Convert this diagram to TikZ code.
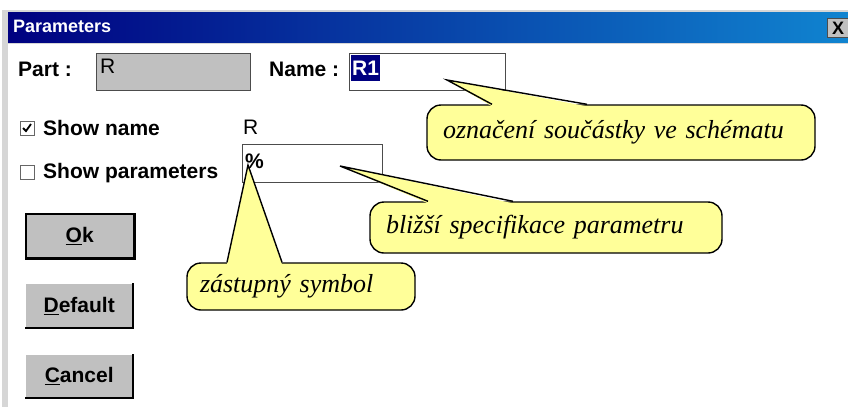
\documentclass[tikz,border=0pt]{standalone}
\usepackage{fontspec}
\setmainfont{Liberation Sans}
\newfontfamily\notefont{Liberation Serif}
\definecolor{winnavy}{RGB}{0,0,128}
\definecolor{winblue}{RGB}{16,132,208}
\definecolor{winface}{RGB}{192,192,192}
\definecolor{winedge}{RGB}{214,214,214}
\definecolor{noteyellow}{RGB}{255,255,153}
\begin{document}
\begin{tikzpicture}[x=1pt,y=-1pt,
    dlg/.style={inner sep=0pt, font=\fontsize{21}{25}\selectfont\bfseries},
    dlgthin/.style={inner sep=0pt, font=\fontsize{21}{25}\selectfont},
    fieldbox/.style={draw=black!70, line width=1.2pt, inner sep=0pt, anchor=north west},
    chkbox/.style={draw=black!60, fill=white, line width=1pt, minimum size=14pt, inner sep=0pt},
    btn/.style={fill=winface, minimum width=108pt, minimum height=44pt, inner sep=0pt, anchor=north west,
        font=\fontsize{21}{25}\selectfont\bfseries},
    notebox/.style={fill=noteyellow, draw=black, line width=1.4pt, rounded corners=14pt, inner xsep=16pt,
        align=left, font=\notefont\itshape\fontsize{26}{30}\selectfont},
    notepen/.style={draw=black, line width=1.4pt, line join=miter}]
    \useasboundingbox (0,0) rectangle (848,407);
    \fill[white] (0,0) rectangle (848,407);
    %% Window frame and title bar
    \fill[winedge] (2,10) rectangle (8,407);
    \fill[winedge] (2,10) rectangle (848,12);
    \shade[left color=winnavy, right color=winblue] (8,12) rectangle (848,42);
    \draw[winedge, line width=1pt] (8,43) -- (848,43);
    \node[inner sep=0pt, anchor=west, text=white, font=\fontsize{18}{20}\selectfont\bfseries] (title) at (13,26) {Parameters};
    \node[fill=winface, draw=black!70, line width=1pt, anchor=north west, minimum width=21pt, minimum height=19pt,
        inner sep=0pt, font=\fontsize{18}{20}\selectfont\bfseries] (closebtn) at (827,18) {X};
    %% Part and Name
    \node[dlg, anchor=west] (partlbl) at (18,69) {Part :};
    \node[fieldbox, fill=winface, minimum width=154pt, minimum height=37pt] (partbox) at (96,53) {};
    \node[dlgthin, anchor=west] (partval) at (100,66) {R};
    \node[dlg, anchor=west] (namelbl) at (269,69) {Name :};
    \node[fieldbox, fill=white, minimum width=156pt, minimum height=37pt] (namebox) at (349,53) {};
    \node[dlg, anchor=west, fill=winnavy, text=white, inner xsep=1pt, minimum height=26pt] (nameval) at (351,68) {R1};
    %% Check boxes
    \node[chkbox] (chkname) at (27,128) {};
    \draw[line width=1.8pt] ([xshift=-4pt]chkname.center) -- ([xshift=-1pt,yshift=-3pt]chkname.center)
        -- ([xshift=4pt,yshift=4pt]chkname.center);
    \node[dlg, anchor=west] (showname) at (43,128) {Show name};
    \node[chkbox] (chkparam) at (27,172) {};
    \node[dlg, anchor=west] (showparam) at (43,173) {Show parameters};
    %% Parameter field
    \node[dlgthin, anchor=west] (paramname) at (243,127) {R};
    \node[fieldbox, fill=white, minimum width=140pt, minimum height=38pt] (parambox) at (242,144) {};
    \node[dlg, anchor=west] (paramval) at (245,161) {\%};
    %% Buttons
    \node[btn, draw=black, line width=1.5pt] (okbtn) at (25,213) {\underline{O}k};
    \draw[line width=2.5pt] (okbtn.south west) -- (okbtn.south east) -- (okbtn.north east);
    \node[btn, minimum height=45pt] (defbtn) at (25,283) {\underline{D}efault};
    \node[btn] (cancelbtn) at (25,354) {\underline{C}ancel};
    \foreach \b in {defbtn,cancelbtn} {
        \draw[white, line width=1.5pt] (\b.south west) -- (\b.north west) -- (\b.north east);
        \draw[line width=2pt] (\b.south west) -- (\b.south east) -- (\b.north east);
    }
    %% Callouts
    \node[notebox, text width=356pt, minimum height=55pt] (notename) at (621,132.5) {označení součástky ve schématu};
    \coordinate (tipname) at (447,80);
    \fill[noteyellow] (tipname) -- ([xshift=-129pt,yshift=-2pt]notename.north) -- ([xshift=-34pt,yshift=-2pt]notename.north) -- cycle;
    \draw[notepen] ([xshift=-129pt]notename.north) -- (tipname) -- ([xshift=-34pt]notename.north);
    \node[notebox, text width=320pt, minimum height=51pt] (notespec) at (546,227.5) {bližší specifikace parametru};
    \coordinate (tipspec) at (340,166);
    \fill[noteyellow] (tipspec) -- ([xshift=-118pt,yshift=-2pt]notespec.north) -- ([xshift=-33pt,yshift=-2pt]notespec.north) -- cycle;
    \draw[notepen] ([xshift=-118pt]notespec.north) -- (tipspec) -- ([xshift=-33pt]notespec.north);
    \node[notebox, inner xsep=13pt, text width=202pt, minimum height=47pt] (notesym) at (301,286.5) {zástupný symbol};
    \coordinate (tipsym) at (248,165);
    \fill[noteyellow] (tipsym) -- ([xshift=-74pt,yshift=-2pt]notesym.north) -- ([xshift=-19pt,yshift=-2pt]notesym.north) -- cycle;
    \draw[notepen] ([xshift=-74pt]notesym.north) -- (tipsym) -- ([xshift=-19pt]notesym.north);
\end{tikzpicture}
\end{document}
